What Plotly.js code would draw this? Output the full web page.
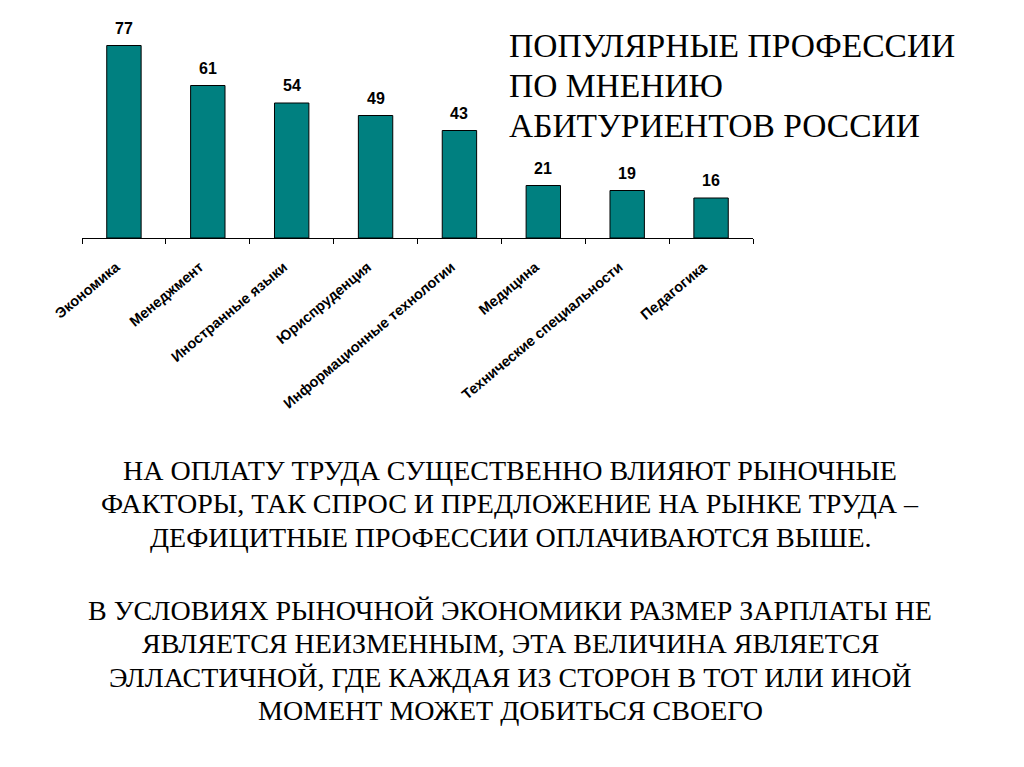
<!DOCTYPE html>
<html>
<head>
<meta charset="utf-8">
<script src="https://cdn.plot.ly/plotly-3.0.1.min.js"></script>
<style>
html,body{margin:0;padding:0;background:#fff;}
#chart{width:1024px;height:767px;}
</style>
</head>
<body>
<div id="chart"></div>
<script>
const categories = ["Экономика","Менеджмент","Иностранные языки","Юриспруденция","Информационные технологии","Медицина","Технические специальности","Педагогика"];
const values = [77, 61, 54, 49, 43, 21, 19, 16];
const titleLines = ["ПОПУЛЯРНЫЕ ПРОФЕССИИ","ПО МНЕНИЮ","АБИТУРИЕНТОВ РОССИИ"];
const paragraph1 = ["НА ОПЛАТУ ТРУДА СУЩЕСТВЕННО ВЛИЯЮТ РЫНОЧНЫЕ","ФАКТОРЫ, ТАК СПРОС И ПРЕДЛОЖЕНИЕ НА РЫНКЕ ТРУДА –","ДЕФИЦИТНЫЕ ПРОФЕССИИ ОПЛАЧИВАЮТСЯ ВЫШЕ."];
const paragraph2 = ["В УСЛОВИЯХ РЫНОЧНОЙ ЭКОНОМИКИ РАЗМЕР ЗАРПЛАТЫ НЕ","ЯВЛЯЕТСЯ НЕИЗМЕННЫМ, ЭТА ВЕЛИЧИНА ЯВЛЯЕТСЯ","ЭЛЛАСТИЧНОЙ, ГДЕ КАЖДАЯ ИЗ СТОРОН В ТОТ ИЛИ ИНОЙ","МОМЕНТ МОЖЕТ ДОБИТЬСЯ СВОЕГО"];

const W = 1024, H = 767;
const L = 82, R = 753, T = 0, B = 238;
const px = x => (x - L) / (R - L);
const py = y => (B - y) / (B - T);
const SANS = 'Liberation Sans';
const SERIF = '"Liberation Serif", "Times New Roman", serif';

const trace = {
  type: 'bar',
  x: categories,
  y: values,
  marker: {color: '#008080', line: {color: '#000', width: 1}},
  width: 0.41,
  hoverinfo: 'skip'
};

const valueAnn = categories.map((c, i) => ({
  x: c, y: values[i], xref: 'x', yref: 'y',
  text: '<b>' + values[i] + '</b>', showarrow: false,
  yanchor: 'bottom', yshift: 7,
  font: {family: SANS, size: 16, color: '#000'}
}));

// title lines, left aligned
const titleAnn = titleLines.map((t, i) => ({
  xref: 'paper', yref: 'paper', x: px(507), y: py(46 + i * 39.5),
  xanchor: 'left', yanchor: 'middle', align: 'left', showarrow: false,
  text: t,
  font: {family: SERIF, size: 33.5, color: '#000'}
}));

const bodyLines = paragraph1.concat(paragraph2);
const bodyY = [470, 503.5, 537, 610, 643.5, 677, 710.5];
const bodyAnn = bodyLines.map((t, i) => ({
  xref: 'paper', yref: 'paper', x: px(510), y: py(bodyY[i]),
  xanchor: 'center', yanchor: 'middle', align: 'center', showarrow: false,
  text: t,
  font: {family: SERIF, size: 28, color: '#000'}
}));

const layout = {
  width: W, height: H,
  margin: {l: L, r: W - R, t: T, b: H - B, pad: 0},
  paper_bgcolor: '#fff', plot_bgcolor: '#fff',
  showlegend: false,
  bargap: 0.59,
  xaxis: {
    type: 'category',
    showline: true, linecolor: '#000', linewidth: 1,
    ticks: 'outside', ticklen: 5, tickcolor: '#000', tickwidth: 1,
    tickson: 'boundaries',
    tickangle: -40,
    ticklabelstandoff: 14,
    ticklabelshift: -8,
    showgrid: false, zeroline: false,
    automargin: false,
    tickfont: {family: SANS, size: 14.5, color: '#000', weight: 'bold'}
  },
  yaxis: {
    range: [0, 95.2], visible: false, fixedrange: true
  },
  annotations: valueAnn.concat(titleAnn, bodyAnn)
};

Plotly.newPlot('chart', [trace], layout, {displayModeBar: false, staticPlot: true});
</script>
</body>
</html>
